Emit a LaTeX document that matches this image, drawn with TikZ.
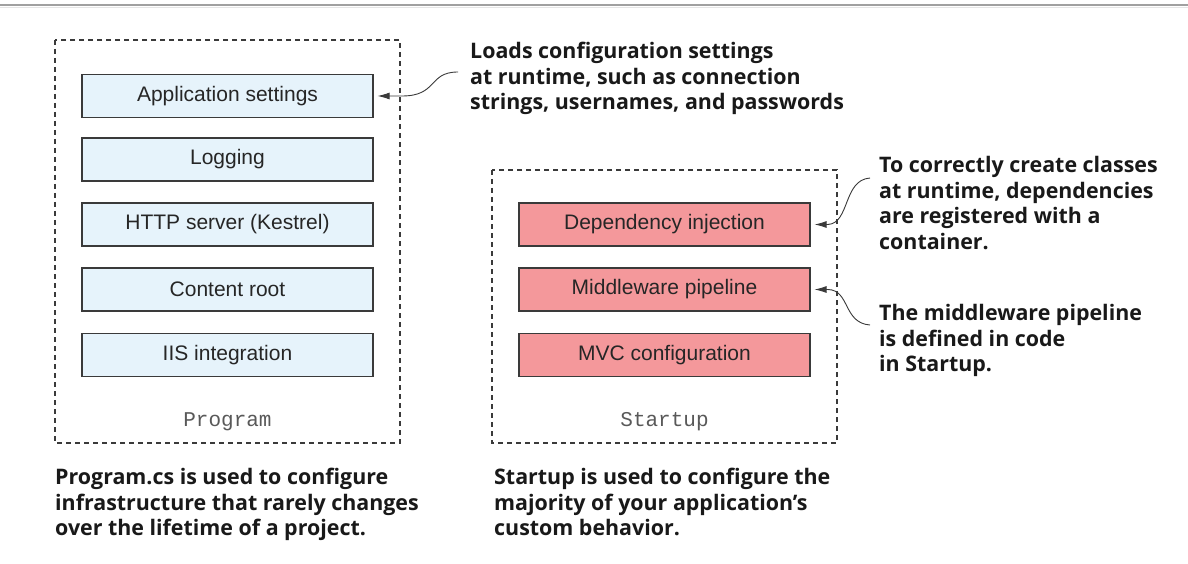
\documentclass[tikz,border=0pt]{standalone}
\usepackage{fontspec}
\setmainfont{Liberation Sans}
\newfontfamily\annfont{Open Sans}
\newfontfamily\codefont{Liberation Mono}
\usetikzlibrary{arrows.meta}
\definecolor{bluefill}{HTML}{E6F3FB}
\definecolor{pinkfill}{HTML}{F4989B}
\definecolor{edge}{HTML}{3A3A3A}
\definecolor{topline}{HTML}{A0A0A0}
\begin{document}
\begin{tikzpicture}[x=1pt,y=-1pt,
  frame/.style={draw=edge,line width=1.3pt,dash pattern=on 5pt off 4pt},
  bluebox/.style={draw=edge,line width=1.1pt,fill=bluefill,minimum width=291pt,minimum height=43pt,inner sep=0pt,font=\fontsize{21}{24}\selectfont,text=black!85},
  pinkbox/.style={draw=edge,line width=1.1pt,fill=pinkfill,minimum width=291pt,minimum height=43pt,inner sep=0pt,font=\fontsize{21}{24}\selectfont,text=black!85},
  codelabel/.style={font=\codefont\fontsize{21}{22}\selectfont,text=black!65,inner sep=0pt},
  ann/.style={font=\annfont\bfseries\fontsize{21.4}{25.6}\selectfont,align=left,anchor=north west,inner sep=0pt,text=black!90},
  arr/.style={draw=edge,line width=0.9pt,-{Latex[length=12pt,width=7pt]},shorten >=4pt}]
\useasboundingbox (0,0) rectangle (1188,564);
\fill[white] (0,0) rectangle (1188,564);
\draw[topline,line width=2.5pt] (0,5) -- (1188,5);
\draw[black!10,line width=1.5pt] (0,7.5) -- (1188,7.5);
% frames
\draw[frame] (55,40) rectangle (400,443);
\draw[frame] (492,170) rectangle (837,443);
% left boxes
\node[bluebox] (appset) at (227.5,96) {Application settings};
\node[bluebox] (logging) at (227.5,159.5) {Logging};
\node[bluebox] (http) at (227.5,224.5) {HTTP server (Kestrel)};
\node[bluebox] (content) at (227.5,289.5) {Content root};
\node[bluebox] (iis) at (227.5,355) {IIS integration};
\node[codelabel] (prog) at (227.5,422) {Program};
% right boxes
\node[pinkbox] (di) at (664.5,224.5) {Dependency injection};
\node[pinkbox] (mp) at (664.5,289.5) {Middleware pipeline};
\node[pinkbox] (mvc) at (664.5,355) {MVC configuration};
\node[codelabel] (start) at (664.5,422) {Startup};
% annotations
\node[ann] (annload) at (470,42) {Loads configuration settings\\at runtime, such as connection\\strings, usernames, and passwords};
\node[ann] (anndi) at (879,156) {To correctly create classes\\at runtime, dependencies\\are registered with a\\container.};
\node[ann] (annmp) at (879,304) {The middleware pipeline\\is defined in code\\in Startup.};
\node[ann] (annprog) at (55,468) {Program.cs is used to configure\\infrastructure that rarely changes\\over the lifetime of a project.};
\node[ann] (annstart) at (494,468) {Startup is used to configure the\\majority of your application’s\\custom behavior.};
% connectors
\coordinate (c1) at (458,72);
\coordinate (c2) at (870,178);
\coordinate (c3) at (870,325);
\draw[arr] (c1) .. controls (428,72) and (438,96) .. (402,96) -- (appset.east);
\draw[arr] (c2) .. controls (843,180) and (850,223) .. (828,224.5) -- (di.east);
\draw[arr] (c3) .. controls (843,323) and (850,290) .. (828,289.5) -- (mp.east);
\end{tikzpicture}
\end{document}
